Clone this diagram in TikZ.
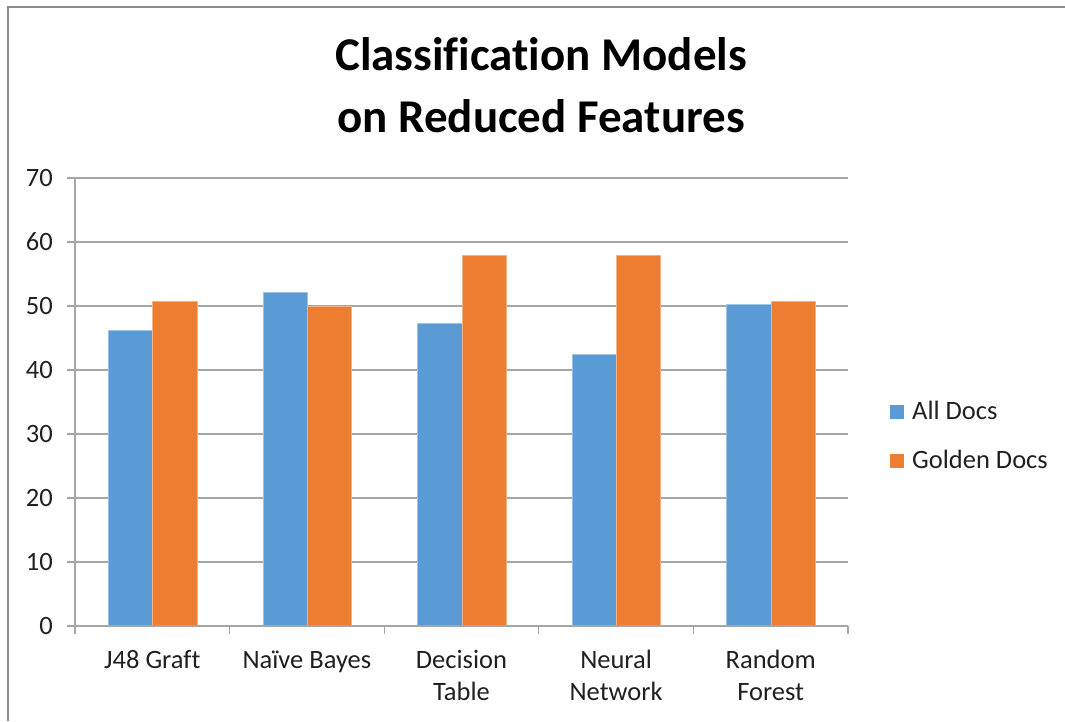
\documentclass[tikz,border=0pt]{standalone}
\usepackage{fontspec}
\setmainfont[Ligatures=NoCommon]{Carlito}
\definecolor{allblue}{HTML}{5B9BD5}
\definecolor{goldorange}{HTML}{ED7D31}
\definecolor{gridgray}{HTML}{A6A6A6}
\definecolor{framegray}{HTML}{8C8C8C}
\definecolor{labeltext}{HTML}{202020}
\begin{document}
\begin{tikzpicture}[x=1pt,y=-1pt,
  gridline/.style={draw=gridgray,line width=1.3pt},
  axisline/.style={draw=gridgray,line width=1.3pt},
  ticklabel/.style={text=labeltext,inner sep=0pt,font=\fontsize{26.5}{32}\selectfont},
  catlabel/.style={text=labeltext,inner sep=0pt,align=center,font=\fontsize{26.5}{32}\selectfont},
  titlelabel/.style={text=black,inner sep=0pt,align=center,font=\fontsize{47}{62}\selectfont\bfseries},
  barA/.style={fill=allblue,draw=allblue!60!white,line width=0.6pt},
  barG/.style={fill=goldorange,draw=goldorange!60!white,line width=0.6pt},
  legtext/.style={text=labeltext,inner sep=0pt,anchor=base west,font=\fontsize{26.5}{32}\selectfont}]
\useasboundingbox (0,0) rectangle (1065,721);
% chart frame
\draw[draw=framegray,line width=1.4pt] (8,721) -- (8,7) -- (1065,7);
% title (anchored at the baseline of its last line)
\node[titlelabel,anchor=base] (title) at (541,132) {Classification Models\\on Reduced Features};
% horizontal gridlines and value labels
\foreach \v in {0,...,7}{
  \draw[gridline] (67,{626-64*\v}) -- (848,{626-64*\v});
  \pgfmathtruncatemacro\lab{10*\v}
  \node[ticklabel,anchor=base east] (ylab\v) at (53,{634-64*\v}) {\lab};
}
% bars
\foreach \i/\a/\g in {0/46.2/50.8,1/52.2/50.0,2/47.3/58.0,3/42.4/58.0,4/50.3/50.8}{
  \pgfmathsetmacro\xl{75+154.6*\i+33.3}
  \fill[barA] (\xl,626) rectangle ({\xl+44.3},{626-6.4*\a});
  \fill[barG] ({\xl+44.3},626) rectangle ({\xl+88.6},{626-6.4*\g});
}
% axes
\draw[axisline] (75,178) -- (75,634);
\draw[axisline] (67,626) -- (848,626);
\foreach \i in {0,...,5}{
  \draw[axisline] ({75+154.6*\i},626) -- ({75+154.6*\i},634);
}
% category labels (base = baseline of the last line)
\node[catlabel,anchor=base] (c1) at ({75+154.6*0.5},668) {J48 Graft};
\node[catlabel,anchor=base] (c2) at ({75+154.6*1.5},668) {Naïve Bayes};
\node[catlabel,anchor=base] (c3) at ({75+154.6*2.5},700) {Decision\\Table};
\node[catlabel,anchor=base] (c4) at ({75+154.6*3.5},700) {Neural\\Network};
\node[catlabel,anchor=base] (c5) at ({75+154.6*4.5},700) {Random\\Forest};
% legend
\fill[allblue] (890,405) rectangle (904,419);
\node[legtext] (legA) at (912,419) {All Docs};
\fill[goldorange] (890,454) rectangle (904,468);
\node[legtext] (legG) at (912,468) {Golden Docs};
\end{tikzpicture}
\end{document}
